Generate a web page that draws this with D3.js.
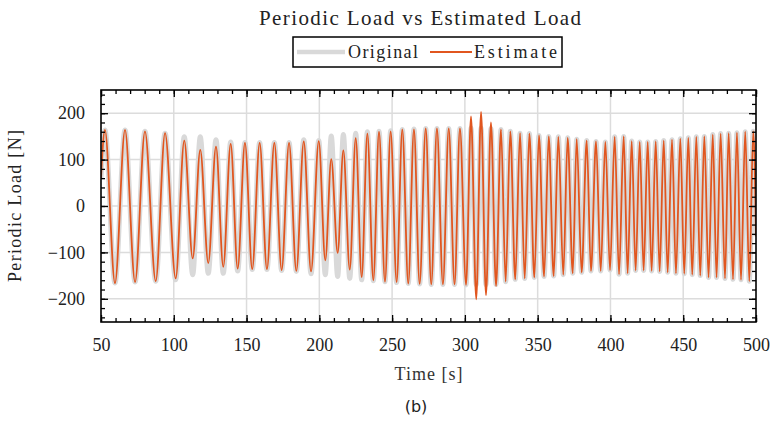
<!DOCTYPE html>
<html>
<head>
  <meta charset="utf-8">
  <title>Periodic Load vs Estimated Load</title>
  <script src="https://d3js.org/d3.v7.min.js" charset="utf-8"></script>
  <style>
  body {margin: 0; background: #fff;}
  svg {display: block; font-family: "Liberation Serif", serif;}
  .tick text {font-family: "Liberation Serif", serif; font-size: 18px; fill: #222;}
  </style>
</head>
<body>
<script>
// times of the peaks / troughs (s)
const times = [50, 52.7, 59.6, 66.5, 73.4, 80.2, 87.6, 94.0, 101.3, 107.2, 113.0, 118.2, 123.7,
  129.0, 134.0, 139.1, 143.9, 148.9, 153.9, 159.0, 164.0, 169.1, 174.1, 179.2, 184.2, 189.3,
  194.3, 199.6, 204.1, 208.2, 212.6, 216.5, 220.9, 225.0, 229.1, 233.0, 237.1, 241.0, 245.1,
  249.0, 253.1, 257.0, 261.1, 265.0, 268.9, 273.1, 276.9, 280.8, 284.9, 288.9, 292.9, 296.6,
  300.8, 304.2, 307.8, 311.1, 314.5, 317.9, 321.4, 324.8, 328.0, 331.2, 334.6, 337.9, 341.1,
  344.3, 347.7, 350.9, 354.4, 357.6, 361.0, 364.2, 367.6, 370.6, 374.1, 376.8, 380.2, 383.7,
  386.6, 390.1, 393.3, 396.5, 399.7, 402.9, 405.9, 409.1, 411.8, 414.6, 417.3, 420.1, 422.8,
  425.6, 428.3, 431.1, 433.8, 436.6, 439.3, 442.3, 445.0, 448.0, 450.7, 453.5, 456.2, 459.0,
  461.7, 464.5, 467.4, 470.3, 472.9, 475.7, 478.7, 481.2, 484.2, 486.9, 489.7, 492.6, 495.4,
  498.1, 500];

// estimated load at those times (N)
const estimate = [60, 164, -166, 164, -164, 161, -162, 157, -156, 141, -113, 121, -123,
  128, -131, 134, -135, 136, -136, 136, -136, 136, -138, 136, -140, 139,
  -141, 140, -117, 101, -101, 120, -137, 146, -153, 156, -160, 160, -163,
  161, -164, 165, -167, 165, -168, 167, -169, 167, -169, 167, -169, 167,
  -170, 193, -201, 203, -192, 180, -172, 165, -163, 161, -158, 157, -156,
  156, -154, 152, -152, 150, -151, 149, -148, 147, -145, 144, -143, 141,
  -140, 139, -140, 138, -138, 149, -147, 150, -145, 140, -139, 138, -139,
  138, -140, 139, -141, 141, -143, 143, -145, 145, -146, 147, -148, 149,
  -150, 150, -154, 154, -154, 156, -156, 157, -158, 158, -159, 160, -162,
  161, -65];

// original load at those times (N)
const original = [60, 164, -166, 164, -164, 161, -162, 157, -159, 149, -148, 149, -145,
  143, -145, 138, -140, 137, -137, 137, -137, 137, -139, 137, -141, 143,
  -146, 141, -148, 151, -152, 154, -156, 157, -159, 160, -161, 161, -163,
  162, -165, 165, -167, 166, -168, 167, -169, 167, -169, 167, -169, 167,
  -170, 168, -170, 168, -170, 167, -169, 165, -163, 161, -158, 157, -156,
  156, -154, 152, -152, 150, -151, 149, -148, 147, -145, 144, -143, 141,
  -140, 139, -140, 138, -138, 149, -147, 150, -145, 140, -139, 138, -139,
  138, -140, 139, -141, 141, -143, 143, -145, 145, -146, 147, -148, 149,
  -150, 150, -154, 154, -154, 156, -156, 157, -158, 158, -159, 160, -162,
  161, -65];

const xTicks = [50, 100, 150, 200, 250, 300, 350, 400, 450, 500];
const yTicks = [-200, -100, 0, 100, 200];

const width = 771, height = 422;
const margin = {left: 101, right: 15, top: 90, bottom: 100};

const svg = d3.select("body").append("svg")
  .attr("width", width).attr("height", height);

const x = d3.scaleLinear().domain([50, 500]).range([margin.left, width - margin.right]);
const y = d3.scaleLinear().domain([-250, 250]).range([height - margin.bottom, margin.top]);

const plotBottom = y.range()[0], plotTop = y.range()[1];
const plotLeft = x.range()[0], plotRight = x.range()[1];

svg.append("clipPath").attr("id", "plot-clip")
  .append("rect")
  .attr("x", plotLeft).attr("y", plotTop)
  .attr("width", plotRight - plotLeft)
  .attr("height", plotBottom - plotTop);

// grid lines
svg.append("g").selectAll("line")
  .data(xTicks.slice(1, -1)).join("line")
  .attr("x1", d => x(d)).attr("x2", d => x(d))
  .attr("y1", plotTop).attr("y2", plotBottom)
  .attr("stroke", "#dcdcdc").attr("stroke-width", 1.5);
svg.append("g").selectAll("line")
  .data(yTicks).join("line")
  .attr("x1", plotLeft).attr("x2", plotRight)
  .attr("y1", d => y(d)).attr("y2", d => y(d))
  .attr("stroke", "#dcdcdc").attr("stroke-width", 1.5);

// the two series
const line = d3.line()
  .x(d => x(d[0])).y(d => y(d[1]))
  .curve(d3.curveMonotoneX);

svg.append("path")
  .datum(d3.zip(times, original))
  .attr("clip-path", "url(#plot-clip)")
  .attr("fill", "none").attr("stroke", "#d9d9d9")
  .attr("stroke-width", 5).attr("stroke-linejoin", "round")
  .attr("d", line);

svg.append("path")
  .datum(d3.zip(times, estimate))
  .attr("clip-path", "url(#plot-clip)")
  .attr("fill", "none").attr("stroke", "#e1561f")
  .attr("stroke-width", 1.8).attr("stroke-linejoin", "round")
  .attr("d", line);

// axes, ticks pointing inwards on all four sides
const xMinor = d3.range(50, 501, 10);
const yMinor = d3.range(-240, 241, 20);

function styleAxis(g) {
  g.select(".domain").remove();
  g.selectAll(".tick line").attr("stroke", "#000").attr("stroke-width", 1.3);
}

svg.append("g").attr("transform", `translate(0,${plotBottom})`)
  .call(d3.axisBottom(x).tickValues(xMinor).tickSize(-4).tickFormat(""))
  .call(styleAxis);
svg.append("g").attr("transform", `translate(0,${plotBottom})`)
  .call(d3.axisBottom(x).tickValues(xTicks).tickSize(-7).tickPadding(16).tickFormat(d3.format("d")))
  .call(styleAxis);
svg.append("g").attr("transform", `translate(0,${plotTop})`)
  .call(d3.axisTop(x).tickValues(xMinor).tickSize(-4).tickFormat(""))
  .call(styleAxis);
svg.append("g").attr("transform", `translate(0,${plotTop})`)
  .call(d3.axisTop(x).tickValues(xTicks).tickSize(-7).tickFormat(""))
  .call(styleAxis);

svg.append("g").attr("transform", `translate(${plotLeft},0)`)
  .call(d3.axisLeft(y).tickValues(yMinor).tickSize(-4).tickFormat(""))
  .call(styleAxis);
svg.append("g").attr("transform", `translate(${plotLeft},0)`)
  .call(d3.axisLeft(y).tickValues(yTicks).tickSize(-7).tickPadding(16).tickFormat(d3.format("d")))
  .call(styleAxis);
svg.append("g").attr("transform", `translate(${plotRight},0)`)
  .call(d3.axisRight(y).tickValues(yMinor).tickSize(-4).tickFormat(""))
  .call(styleAxis);
svg.append("g").attr("transform", `translate(${plotRight},0)`)
  .call(d3.axisRight(y).tickValues(yTicks).tickSize(-7).tickFormat(""))
  .call(styleAxis);

// frame
svg.append("rect")
  .attr("x", plotLeft).attr("y", plotTop)
  .attr("width", plotRight - plotLeft).attr("height", plotBottom - plotTop)
  .attr("fill", "none").attr("stroke", "#000").attr("stroke-width", 1.6);

// titles
svg.append("text")
  .attr("x", 420).attr("y", 25)
  .attr("text-anchor", "middle")
  .attr("font-size", 21).attr("fill", "#222")
  .attr("textLength", 322).attr("lengthAdjust", "spacing")
  .text("Periodic Load vs Estimated Load");

svg.append("text")
  .attr("x", (plotLeft + plotRight) / 2).attr("y", 380)
  .attr("text-anchor", "middle")
  .attr("font-size", 18).attr("fill", "#333")
  .attr("textLength", 68).attr("lengthAdjust", "spacing")
  .text("Time [s]");

svg.append("text")
  .attr("transform", `translate(21,${(plotTop + plotBottom) / 2}) rotate(-90)`)
  .attr("text-anchor", "middle")
  .attr("font-size", 18).attr("fill", "#222")
  .attr("textLength", 152).attr("lengthAdjust", "spacing")
  .text("Periodic Load [N]");

svg.append("text")
  .attr("x", 416).attr("y", 412)
  .attr("text-anchor", "middle")
  .attr("font-family", "DejaVu Sans, sans-serif")
  .attr("font-size", 16).attr("fill", "#222")
  .text("(b)");

// legend
const legend = svg.append("g");
legend.append("rect")
  .attr("x", 293).attr("y", 37).attr("width", 269).attr("height", 30)
  .attr("fill", "#fff").attr("stroke", "#000").attr("stroke-width", 1.5);
legend.append("line")
  .attr("x1", 297).attr("x2", 345).attr("y1", 52).attr("y2", 52)
  .attr("stroke", "#d9d9d9").attr("stroke-width", 4.5);
legend.append("text")
  .attr("x", 348).attr("y", 58)
  .attr("font-size", 18).attr("fill", "#222")
  .attr("textLength", 70).attr("lengthAdjust", "spacing")
  .text("Original");
legend.append("line")
  .attr("x1", 430).attr("x2", 472).attr("y1", 52).attr("y2", 52)
  .attr("stroke", "#e1561f").attr("stroke-width", 1.8);
legend.append("text")
  .attr("x", 474).attr("y", 58)
  .attr("font-size", 18).attr("fill", "#222")
  .attr("textLength", 83).attr("lengthAdjust", "spacing")
  .text("Estimate");
</script>
</body>
</html>
